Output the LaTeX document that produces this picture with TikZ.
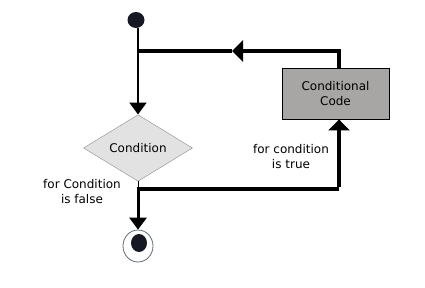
\documentclass[tikz,border=0pt]{standalone}
\usepackage{fontspec}
\setmainfont{DejaVu Sans}
\usepackage{xcolor}
\usetikzlibrary{arrows.meta, shapes.geometric}
\definecolor{dotblack}{RGB}{22,24,36}
\definecolor{codegray}{RGB}{168,165,165}
\definecolor{condgray}{RGB}{226,226,226}
\definecolor{ringgray}{RGB}{95,105,115}
\tikzstyle{dot}=[ellipse, fill=dotblack, inner sep=0pt]
\tikzstyle{condbox}=[diamond, draw=black!45, fill=condgray, inner sep=0pt,
  minimum width=109pt, minimum height=66pt, font=\fontsize{12}{15}\selectfont]
\tikzstyle{codebox}=[rectangle, draw=black, line width=0.9pt, fill=codegray,
  minimum width=107pt, minimum height=51pt, align=center,
  font=\fontsize{12}{15}\selectfont]
\tikzstyle{lbl}=[align=center, font=\fontsize{12}{15}\selectfont]
\tikzstyle{farr}=[line width=4.5pt, -{Triangle[length=11pt, width=21pt]}]
\tikzstyle{fline}=[line width=4.5pt]
\tikzstyle{sarr}=[line width=2.5pt, -{Triangle[length=12pt, width=17pt]}]

\begin{document}
\begin{tikzpicture}[x=1pt, y=-1pt]
        \useasboundingbox (0,0) rectangle (425,288);
        \node[dot, minimum width=17pt, minimum height=16pt] (start) at (136,20) {};
        \node[condbox] (cond) at (138,148) {Condition};
        \node[codebox] (code) at (335.5,93.5) {Conditional\\Code};
        \node[ellipse, draw=ringgray, line width=0.8pt, minimum width=30pt,
          minimum height=32pt, inner sep=0pt] (stop) at (138,246) {};
        \node[dot, minimum width=16pt, minimum height=18pt] (stopdot) at (139,243) {};
        \node[lbl] (falselbl) at (82,192) {for Condition\\is false};
        \node[lbl] (truelbl) at (291,157) {for condition\\is true};
        \coordinate (j1) at (138,51);
        \coordinate (j2) at (138,189);
        \coordinate (k1) at (339,51);
        \coordinate (k2) at (339,189);
        \coordinate (back) at (232,51);
        \draw[sarr, line width=2pt] (start.south -| j1) -- (cond.north);
        \draw[farr] (code.north -| k1) -- (k1) -- (back);
        \draw[fline] (back) -- ([xshift=-1pt]j1);
        \draw[line width=1pt] (cond.south) -- (j2);
        \draw[fline] ([xshift=-1pt]j2) -- (k2);
        \draw[farr] ([yshift=2pt]k2) -- (code.south -| k2);
        \draw[sarr, line width=3pt] (j2) -- (stop.north);
      \end{tikzpicture}
\end{document}
